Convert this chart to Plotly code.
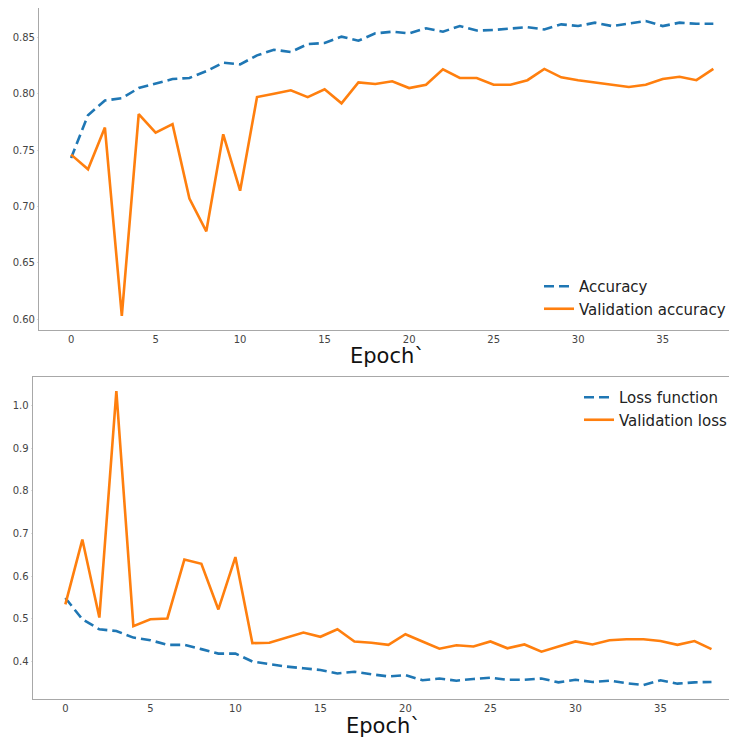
import plotly.graph_objects as go

epochs = list(range(39))

accuracy = [0.743, 0.781, 0.794, 0.796, 0.805, 0.809, 0.813, 0.814, 0.820, 0.8275,
            0.826, 0.834, 0.839, 0.837, 0.844, 0.845, 0.8506, 0.847, 0.8535, 0.855,
            0.8535, 0.858, 0.855, 0.860, 0.856, 0.8565, 0.858, 0.859, 0.857, 0.8615,
            0.860, 0.863, 0.860, 0.862, 0.8645, 0.860, 0.863, 0.862, 0.862]

val_accuracy = [0.746, 0.733, 0.770, 0.603, 0.782, 0.7655, 0.773, 0.707, 0.678, 0.764,
                0.714, 0.797, 0.800, 0.803, 0.797, 0.804, 0.7915, 0.810, 0.8086, 0.811,
                0.805, 0.808, 0.8216, 0.814, 0.814, 0.808, 0.808, 0.812, 0.822, 0.8145,
                0.812, 0.810, 0.808, 0.806, 0.808, 0.813, 0.815, 0.812, 0.822]

loss = [0.549, 0.499, 0.4755, 0.4715, 0.456, 0.450, 0.439, 0.439, 0.429, 0.4185,
        0.4185, 0.400, 0.394, 0.388, 0.384, 0.380, 0.372, 0.376, 0.370, 0.365,
        0.368, 0.356, 0.360, 0.355, 0.359, 0.362, 0.357, 0.357, 0.360, 0.351,
        0.357, 0.352, 0.355, 0.349, 0.345, 0.356, 0.348, 0.351, 0.352]

val_loss = [0.534, 0.686, 0.503, 1.034, 0.483, 0.499, 0.501, 0.639, 0.629, 0.522,
            0.645, 0.443, 0.444, 0.456, 0.468, 0.458, 0.4755, 0.447, 0.444, 0.439,
            0.464, 0.447, 0.430, 0.438, 0.435, 0.447, 0.431, 0.440, 0.423, 0.435,
            0.447, 0.440, 0.450, 0.452, 0.452, 0.448, 0.439, 0.448, 0.429]

x_ticks = [0, 5, 10, 15, 20, 25, 30, 35]
acc_ticks = [0.60, 0.65, 0.70, 0.75, 0.80, 0.85]
loss_ticks = [0.4, 0.5, 0.6, 0.7, 0.8, 0.9, 1.0]
x_title = "Epoch`"

BLUE = "#1f77b4"
ORANGE = "#ff7f0e"
FONT = "DejaVu Sans"
OFF = 8                 # default body margin of the page
W, H = 737 - OFF, 742 - OFF


def px(x):
    return min(1.0, max(0.0, (x - OFF) / W))


def py(y):
    return min(1.0, max(0.0, 1 - (y - OFF) / H))


fig = go.Figure()
fig.add_trace(go.Scatter(x=epochs, y=accuracy, mode="lines", name="Accuracy",
                         line=dict(color=BLUE, width=2.6, dash="10px,5px"),
                         xaxis="x", yaxis="y", legend="legend"))
fig.add_trace(go.Scatter(x=epochs, y=val_accuracy, mode="lines", name="Validation accuracy",
                         line=dict(color=ORANGE, width=2.6),
                         xaxis="x", yaxis="y", legend="legend"))
fig.add_trace(go.Scatter(x=epochs, y=loss, mode="lines", name="Loss function",
                         line=dict(color=BLUE, width=2.6, dash="10px,5px"),
                         xaxis="x2", yaxis="y2", legend="legend2"))
fig.add_trace(go.Scatter(x=epochs, y=val_loss, mode="lines", name="Validation loss",
                         line=dict(color=ORANGE, width=2.6),
                         xaxis="x2", yaxis="y2", legend="legend2"))

axis_line = "#a8a8a8"
tickfont = dict(family=FONT, size=10, color="#444444")
title_font = dict(family=FONT, size=21, color="#111111")

common_x = dict(showline=True, mirror=True, linecolor=axis_line, linewidth=1.2,
                showgrid=False, zeroline=False, tickvals=x_ticks, ticks="",
                tickfont=tickfont)
common_y = dict(showline=True, mirror=False, linecolor=axis_line, linewidth=1.2,
                showgrid=False, zeroline=False, ticks="outside", ticklen=1,
                tickcolor="#dddddd", tickfont=tickfont)

fig.update_layout(
    width=W, height=H,
    margin=dict(l=0, r=0, t=0, b=0),
    paper_bgcolor="white", plot_bgcolor="white",
    font=dict(family=FONT),
    xaxis=dict(domain=[px(39), 1.0], range=[-1.9, 39.4], anchor="y", **common_x),
    yaxis=dict(domain=[py(330), 1.0], range=[0.5905, 0.876], anchor="x",
               tickvals=acc_ticks, tickformat=".2f", **common_y),
    xaxis2=dict(domain=[px(32.7), 1.0], range=[-1.92, 39.5], anchor="y2", **common_x),
    yaxis2=dict(domain=[py(699), py(376.7)], range=[0.312, 1.068], anchor="x2",
                tickvals=loss_ticks, tickformat=".1f", **common_y),
    legend=dict(x=px(539), y=py(270), xanchor="left", yanchor="top",
                bgcolor="rgba(255,255,255,0)", font=dict(family=FONT, size=15, color="#222222"),
                tracegroupgap=0, itemwidth=30),
    legend2=dict(x=px(579), y=py(381), xanchor="left", yanchor="top",
                 bgcolor="rgba(255,255,255,0)", font=dict(family=FONT, size=15, color="#222222"),
                 tracegroupgap=0, itemwidth=30),
    showlegend=True,
    annotations=[
        dict(text=x_title, xref="paper", yref="paper", x=px(387), y=py(356),
             xanchor="center", yanchor="middle", showarrow=False, font=title_font),
        dict(text=x_title, xref="paper", yref="paper", x=px(384), y=py(726),
             xanchor="center", yanchor="middle", showarrow=False, font=title_font),
    ],
)

fig.write_html("out.html")
